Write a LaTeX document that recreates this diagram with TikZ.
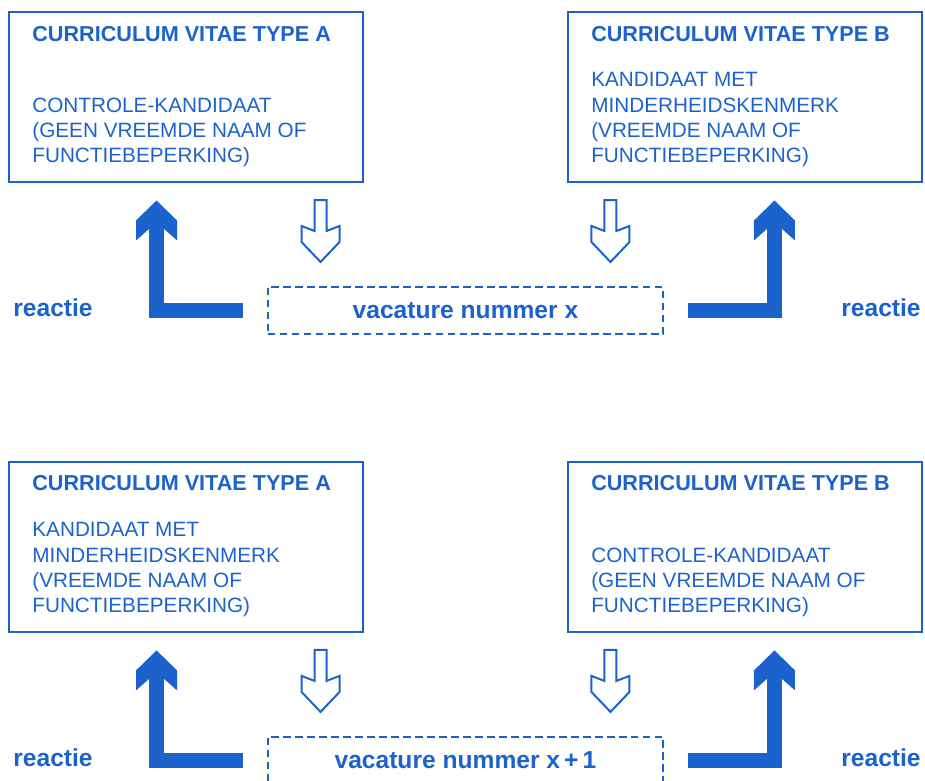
\documentclass[tikz,border=0pt]{standalone}
\usepackage{fontspec}
\setmainfont{Liberation Sans}
\usetikzlibrary{calc}
\usetikzlibrary{positioning}

\definecolor{cvblue}{RGB}{28,98,205}

\tikzset{
  cvbox/.style={draw=cvblue, line width=0.04cm, minimum width=7.08cm, minimum height=3.4cm, inner sep=0},
  cvtitle/.style={font=\fontsize{12.3}{14}\selectfont\bfseries, text=cvblue, inner sep=0, anchor=base west},
  cvbody/.style={font=\fontsize{11.8}{14.4}\selectfont, text=cvblue, align=left, inner sep=0, anchor=south west},
  vacbox/.style={draw=cvblue, line width=0.04cm, dash pattern=on 0.15cm off 0.09cm, minimum width=7.92cm, minimum height=0.94cm, font=\fontsize{14}{16}\selectfont\bfseries, text=cvblue},
  reactlabel/.style={font=\fontsize{14}{16}\selectfont\bfseries, text=cvblue, inner sep=0},
  reactline/.style={draw=cvblue, line width=0.29cm, line join=miter},
  solidhead/.pic={\fill[cvblue] (0,0) -- (20.5,20) -- (20.5,40) -- (7,28) -- (-7,28) -- (-20.5,40) -- (-20.5,20) -- cycle;},
  hollowdown/.pic={\draw[cvblue, line width=0.04cm, fill=white, line join=miter] (0,0) -- (19,-20) -- (19,-36) -- (6,-31) -- (6,-62) -- (-6,-62) -- (-6,-31) -- (-19,-36) -- (-19,-20) -- cycle;}
}

\begin{document}
\begin{tikzpicture}[x=0.02cm, y=-0.02cm]
\clip (0,0) rectangle (925,780);

% vacature x
\node[cvbox] (cvA1) at (186,97) {};
\node[cvbox, right=4.06cm of cvA1] (cvB1) {};
\node[cvtitle] (tA1) at ($(cvA1.north west)+(24,30)$) {CURRICULUM VITAE TYPE A};
\node[cvtitle] (tB1) at ($(cvB1.north west)+(24,30)$) {CURRICULUM VITAE TYPE B};
\node[cvbody] (bA1) at ($(cvA1.south west)+(24,-15.5)$) {CONTROLE-KANDIDAAT\\(GEEN VREEMDE NAAM OF\\FUNCTIEBEPERKING)};
\node[cvbody] (bB1) at ($(cvB1.south west)+(24,-15.5)$) {KANDIDAAT MET\\MINDERHEIDSKENMERK\\(VREEMDE NAAM OF\\FUNCTIEBEPERKING)};
\node[vacbox] (vac1) at (465.5,310.5) {vacature nummer x};
\pic at ($(vac1.north west)+(54,-24)$) {hollowdown};
\pic at ($(vac1.north east)+(-54,-24)$) {hollowdown};
\coordinate (upA1) at ($(vac1.west)+(-110,-110)$);
\coordinate (upB1) at ($(vac1.east)+(110,-110)$);
\draw[reactline] ($(vac1.west)+(-24,0)$) -| ($(upA1)+(0,24)$);
\draw[reactline] ($(vac1.east)+(24,0)$) -| ($(upB1)+(0,24)$);
\pic at (upA1) {solidhead};
\pic at (upB1) {solidhead};
\node[reactlabel, anchor=base west] (reA1) at (13,316) {reactie};
\node[reactlabel, anchor=base east] (reB1) at (921,316) {reactie};

% vacature x+1
\node[cvbox, below=5.56cm of cvA1] (cvA2) {};
\node[cvbox, right=4.06cm of cvA2] (cvB2) {};
\node[cvtitle] (tA2) at ($(cvA2.north west)+(24,30)$) {CURRICULUM VITAE TYPE A};
\node[cvtitle] (tB2) at ($(cvB2.north west)+(24,30)$) {CURRICULUM VITAE TYPE B};
\node[cvbody] (bA2) at ($(cvA2.south west)+(24,-15.5)$) {KANDIDAAT MET\\MINDERHEIDSKENMERK\\(VREEMDE NAAM OF\\FUNCTIEBEPERKING)};
\node[cvbody] (bB2) at ($(cvB2.south west)+(24,-15.5)$) {CONTROLE-KANDIDAAT\\(GEEN VREEMDE NAAM OF\\FUNCTIEBEPERKING)};
\node[vacbox, below=8.02cm of vac1] (vac2) {vacature nummer x\,+\,1};
\pic at ($(vac2.north west)+(54,-24)$) {hollowdown};
\pic at ($(vac2.north east)+(-54,-24)$) {hollowdown};
\coordinate (upA2) at ($(vac2.west)+(-110,-110)$);
\coordinate (upB2) at ($(vac2.east)+(110,-110)$);
\draw[reactline] ($(vac2.west)+(-24,0)$) -| ($(upA2)+(0,24)$);
\draw[reactline] ($(vac2.east)+(24,0)$) -| ($(upB2)+(0,24)$);
\pic at (upA2) {solidhead};
\pic at (upB2) {solidhead};
\node[reactlabel, anchor=base west] (reA2) at (13,766) {reactie};
\node[reactlabel, anchor=base east] (reB2) at (921,766) {reactie};

\end{tikzpicture}
\end{document}
